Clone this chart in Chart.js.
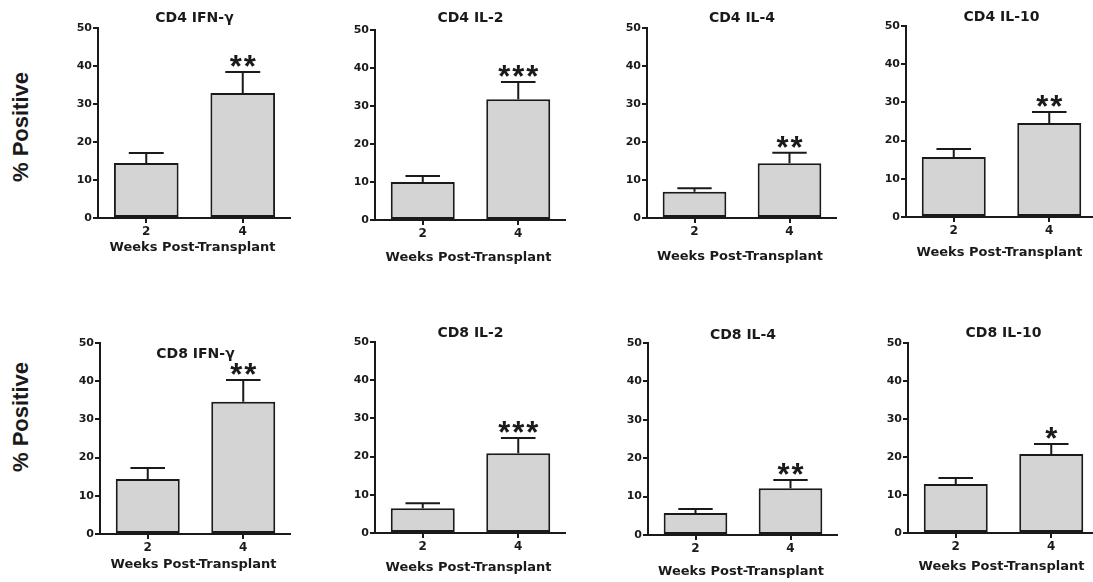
<!DOCTYPE html>
<html>
<head>
<meta charset="utf-8">
<title>Cytokine-positive T cells after transplant</title>
<script src="https://cdn.jsdelivr.net/npm/chart.js@4.4.1/dist/chart.umd.min.js"></script>
<style>
  html, body { margin: 0; padding: 0; background: #fff; overflow: hidden; }
  body { width: 1093px; height: 582px; position: relative; }
  canvas { position: absolute; }
  .ylab {
    position: absolute;
    font: bold 22px "Liberation Sans", Arial, sans-serif;
    color: #1a1a1a;
    white-space: nowrap;
    transform: translate(-50%, -50%) rotate(-90deg);
  }
</style>
</head>
<body>
<div class="ylab" style="left:21px; top:127px;">% Positive</div>
<div class="ylab" style="left:21px; top:417px;">% Positive</div>

<script>
// data
const weeks = ['2', '4'];
const panelTitles = ['CD4 IFN-γ', 'CD4 IL-2', 'CD4 IL-4', 'CD4 IL-10',
                     'CD8 IFN-γ', 'CD8 IL-2', 'CD8 IL-4', 'CD8 IL-10'];
const meanWeek2 = [14.5, 10.0, 6.9, 15.7, 14.4, 6.5, 5.7, 12.9];
const meanWeek4 = [32.9, 31.8, 14.4, 24.6, 34.6, 20.9, 12.2, 20.8];
const errWeek2 = [2.6, 1.6, 0.9, 2.1, 2.9, 1.3, 1.1, 1.6];
const errWeek4 = [5.5, 4.5, 2.8, 2.9, 5.7, 4.0, 2.1, 2.6];
const stars = ['**', '***', '**', '**', '**', '***', '**', '*'];
const yTicks = [0, 10, 20, 30, 40, 50];
const xTitle = 'Weeks Post-Transplant';

// where each small panel sits on the page (axis origin, top, right end)
const panelLayout = [
  { x: 98,  y50: 28,  y0: 218, xEnd: 291,  titleY: 18,  xTitleY: 248 },
  { x: 375, y50: 30,  y0: 220, xEnd: 566,  titleY: 18,  xTitleY: 258 },
  { x: 647, y50: 28,  y0: 218, xEnd: 837,  titleY: 18,  xTitleY: 257 },
  { x: 906, y50: 26,  y0: 217, xEnd: 1097, titleY: 17,  xTitleY: 253 },
  { x: 100, y50: 343, y0: 534, xEnd: 291,  titleY: 354, xTitleY: 565 },
  { x: 375, y50: 342, y0: 533, xEnd: 566,  titleY: 333, xTitleY: 568 },
  { x: 648, y50: 343, y0: 535, xEnd: 838,  titleY: 335, xTitleY: 572 },
  { x: 908, y50: 343, y0: 533, xEnd: 1099, titleY: 333, xTitleY: 567 },
];

const PAD_TOP = 26;
const Y_AXIS_W = 36;
const X_AXIS_H = 52;
const INK = '#1a1a1a';
const FONT = '"DejaVu Sans", Arial, sans-serif';

// error bars (upper half only), significance stars, panel title, x title
const panelDecor = {
  id: 'panelDecor',
  afterDatasetsDraw(chart, args, opts) {
    const { ctx, chartArea } = chart;
    const yScale = chart.scales.y;
    const bars = chart.getDatasetMeta(0).data;
    ctx.save();
    ctx.strokeStyle = INK;
    ctx.lineWidth = 2;
    let capY = null, capX = null;
    bars.forEach((bar, j) => {
      const top = yScale.getPixelForValue(opts.means[j] + opts.errs[j]);
      const half = bar.width * 0.27;
      ctx.beginPath();
      ctx.moveTo(bar.x, bar.y);
      ctx.lineTo(bar.x, top);
      ctx.moveTo(bar.x - half, top);
      ctx.lineTo(bar.x + half, top);
      ctx.stroke();
      capY = top; capX = bar.x;
    });

    // stars over the week-4 bar
    ctx.fillStyle = INK;
    ctx.font = 'bold 31px "Liberation Sans", Arial, sans-serif';
    ctx.letterSpacing = '2px';
    ctx.textAlign = 'center';
    ctx.textBaseline = 'alphabetic';
    const m = ctx.measureText(opts.stars);
    const mid = (m.actualBoundingBoxAscent - m.actualBoundingBoxDescent) / 2;
    ctx.fillText(opts.stars, capX + 1, capY - 11 + mid);
    ctx.letterSpacing = '0px';

    const cx = (chartArea.left + chartArea.right) / 2;
    ctx.textBaseline = 'middle';
    ctx.font = 'bold 14px ' + FONT;
    ctx.fillText(opts.title, cx, chartArea.top + opts.titleDy);
    ctx.font = 'bold 13px ' + FONT;
    ctx.fillText(xTitle, cx - 2, chartArea.bottom + opts.xTitleDy);
    ctx.restore();
  }
};

panelLayout.forEach((p, i) => {
  const canvas = document.createElement('canvas');
  const w = Y_AXIS_W + (p.xEnd - p.x);
  const h = PAD_TOP + (p.y0 - p.y50) + X_AXIS_H;
  canvas.width = w;
  canvas.height = h;
  canvas.style.left = (p.x - Y_AXIS_W) + 'px';
  canvas.style.top = (p.y50 - PAD_TOP) + 'px';
  canvas.style.width = w + 'px';
  canvas.style.height = h + 'px';
  document.body.appendChild(canvas);

  new Chart(canvas, {
    type: 'bar',
    data: {
      labels: weeks,
      datasets: [{
        data: [meanWeek2[i], meanWeek4[i]],
        backgroundColor: '#d4d4d4',
        borderColor: INK,
        borderWidth: 2,
        borderSkipped: false,
        barPercentage: 0.67,
        categoryPercentage: 1,
      }],
    },
    options: {
      responsive: false,
      animation: false,
      layout: { padding: { top: PAD_TOP, left: 0, right: 0, bottom: 0 } },
      plugins: {
        legend: { display: false },
        tooltip: { enabled: false },
        panelDecor: {
          title: panelTitles[i],
          stars: stars[i],
          means: [meanWeek2[i], meanWeek4[i]],
          errs: [errWeek2[i], errWeek4[i]],
          titleDy: p.titleY - p.y50,
          xTitleDy: p.xTitleY - p.y0,
        },
      },
      scales: {
        x: {
          offset: true,
          grid: { offset: false, drawOnChartArea: false, tickLength: 5, lineWidth: 2, color: INK },
          border: { color: INK, width: 2 },
          ticks: { color: INK, font: { family: FONT, weight: 'bold', size: 12 }, padding: 2 },
          afterFit: (s) => { s.height = X_AXIS_H; },
        },
        y: {
          min: 0,
          max: 50,
          afterBuildTicks: (s) => { s.ticks = yTicks.map(v => ({ value: v })); },
          grid: { drawOnChartArea: false, tickLength: 5, lineWidth: 2, color: INK },
          border: { color: INK, width: 2 },
          ticks: { color: INK, font: { family: FONT, weight: 'bold', size: 11 }, padding: 1 },
          afterFit: (s) => { s.width = Y_AXIS_W; },
        },
      },
    },
    plugins: [panelDecor],
  });
});
</script>
</body>
</html>
